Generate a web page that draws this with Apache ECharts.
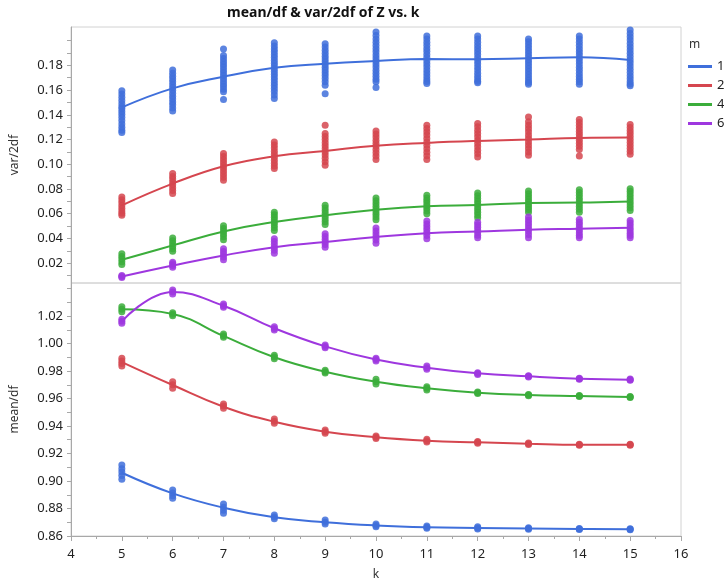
<!DOCTYPE html>
<html>
<head>
<meta charset="utf-8">
<script src="https://cdn.jsdelivr.net/npm/echarts@6/dist/echarts.min.js"></script>
<style>
  html, body { margin: 0; padding: 0; background: #fff; }
  #chart { width: 724px; height: 583px; }
</style>
</head>
<body>
<div id="chart"></div>
<script>
// k values on the shared horizontal axis
const kValues = [5, 6, 7, 8, 9, 10, 11, 12, 13, 14, 15];
const mLevels = ['1', '2', '4', '6'];

// Tick labels
const kTicks = [4, 5, 6, 7, 8, 9, 10, 11, 12, 13, 14, 15, 16];
const varTicks = [0.02, 0.04, 0.06, 0.08, 0.10, 0.12, 0.14, 0.16, 0.18];
const meanTicks = [0.86, 0.88, 0.90, 0.92, 0.94, 0.96, 0.98, 1.00, 1.02];

// var/2df replicates, one list per k (k = 5 .. 15)
const varM1 = [
  [0.1594, 0.1568, 0.1541, 0.1515, 0.1490, 0.1466, 0.1448, 0.1426, 0.1404, 0.1380, 0.1353, 0.1326, 0.1300, 0.1276, 0.1257],
  [0.1762, 0.1736, 0.1712, 0.1690, 0.1667, 0.1644, 0.1621, 0.1598, 0.1574, 0.1551, 0.1527, 0.1504, 0.1481, 0.1455, 0.1430],
  [0.1932, 0.1880, 0.1856, 0.1831, 0.1808, 0.1786, 0.1763, 0.1741, 0.1717, 0.1694, 0.1672, 0.1650, 0.1628, 0.1606, 0.1586, 0.1524],
  [0.1983, 0.1957, 0.1933, 0.1909, 0.1886, 0.1863, 0.1840, 0.1817, 0.1795, 0.1773, 0.1750, 0.1727, 0.1705, 0.1683, 0.1660, 0.1637, 0.1612, 0.1588, 0.1560, 0.1532],
  [0.1975, 0.1948, 0.1922, 0.1898, 0.1874, 0.1851, 0.1829, 0.1807, 0.1785, 0.1762, 0.1740, 0.1717, 0.1694, 0.1668, 0.1640, 0.1570],
  [0.2070, 0.2041, 0.2013, 0.1986, 0.1960, 0.1934, 0.1909, 0.1884, 0.1859, 0.1835, 0.1811, 0.1786, 0.1761, 0.1736, 0.1711, 0.1688, 0.1667, 0.1620],
  [0.2038, 0.2012, 0.1987, 0.1962, 0.1937, 0.1913, 0.1888, 0.1863, 0.1838, 0.1813, 0.1788, 0.1763, 0.1738, 0.1713, 0.1690, 0.1670, 0.1654],
  [0.2038, 0.2012, 0.1986, 0.1961, 0.1936, 0.1912, 0.1887, 0.1862, 0.1837, 0.1812, 0.1787, 0.1762, 0.1737, 0.1712, 0.1690, 0.1672, 0.1659],
  [0.2013, 0.1990, 0.1966, 0.1942, 0.1918, 0.1894, 0.1870, 0.1846, 0.1822, 0.1798, 0.1774, 0.1750, 0.1726, 0.1702, 0.1680, 0.1662, 0.1648],
  [0.2038, 0.2012, 0.1986, 0.1960, 0.1935, 0.1910, 0.1885, 0.1860, 0.1835, 0.1810, 0.1785, 0.1760, 0.1735, 0.1710, 0.1688, 0.1667, 0.1648],
  [0.2086, 0.2058, 0.2031, 0.2004, 0.1977, 0.1950, 0.1924, 0.1898, 0.1872, 0.1846, 0.1820, 0.1794, 0.1768, 0.1742, 0.1716, 0.1692, 0.1668, 0.1650, 0.1635]
];
const varM2 = [
  [0.0735, 0.0713, 0.0690, 0.0667, 0.0645, 0.0623, 0.0605, 0.0587],
  [0.0925, 0.0902, 0.0880, 0.0857, 0.0834, 0.0811, 0.0788, 0.0763],
  [0.1087, 0.1063, 0.1039, 0.1015, 0.0991, 0.0967, 0.0944, 0.0920, 0.0895, 0.0870],
  [0.1181, 0.1156, 0.1131, 0.1106, 0.1081, 0.1056, 0.1032, 0.1008, 0.0986, 0.0965],
  [0.1316, 0.1249, 0.1225, 0.1200, 0.1175, 0.1150, 0.1125, 0.1100, 0.1075, 0.1049, 0.1021, 0.0992],
  [0.1270, 0.1245, 0.1220, 0.1195, 0.1170, 0.1145, 0.1120, 0.1094, 0.1067, 0.1038],
  [0.1316, 0.1290, 0.1263, 0.1236, 0.1209, 0.1181, 0.1153, 0.1125, 0.1097, 0.1068, 0.1038],
  [0.1330, 0.1303, 0.1276, 0.1249, 0.1222, 0.1195, 0.1168, 0.1141, 0.1114, 0.1087, 0.1059],
  [0.1383, 0.1343, 0.1316, 0.1289, 0.1262, 0.1235, 0.1208, 0.1181, 0.1154, 0.1127, 0.1100, 0.1073],
  [0.1362, 0.1338, 0.1314, 0.1290, 0.1266, 0.1242, 0.1218, 0.1194, 0.1170, 0.1145, 0.1119, 0.1067],
  [0.1322, 0.1298, 0.1274, 0.1250, 0.1226, 0.1202, 0.1178, 0.1154, 0.1130, 0.1105, 0.1081]
];
const varM4 = [
  [0.0276, 0.0255, 0.0234, 0.0212, 0.0190],
  [0.0403, 0.0381, 0.0359, 0.0337, 0.0316, 0.0297],
  [0.0503, 0.0481, 0.0459, 0.0437, 0.0414, 0.0390],
  [0.0613, 0.0592, 0.0571, 0.0550, 0.0529, 0.0508, 0.0487, 0.0465],
  [0.0668, 0.0646, 0.0624, 0.0602, 0.0580, 0.0558, 0.0536, 0.0514],
  [0.0727, 0.0705, 0.0683, 0.0661, 0.0639, 0.0617, 0.0595, 0.0574, 0.0552],
  [0.0749, 0.0728, 0.0707, 0.0686, 0.0665, 0.0644, 0.0622, 0.0600],
  [0.0767, 0.0745, 0.0723, 0.0701, 0.0679, 0.0657, 0.0635, 0.0612, 0.0590, 0.0568],
  [0.0784, 0.0762, 0.0740, 0.0718, 0.0696, 0.0674, 0.0654, 0.0634, 0.0613],
  [0.0795, 0.0772, 0.0749, 0.0726, 0.0703, 0.0680, 0.0658, 0.0636, 0.0613],
  [0.0803, 0.0781, 0.0759, 0.0737, 0.0715, 0.0693, 0.0671, 0.0649, 0.0627]
];
const varM6 = [
  [0.0100, 0.0092, 0.0085],
  [0.0208, 0.0195, 0.0181, 0.0168],
  [0.0317, 0.0295, 0.0273, 0.0251, 0.0228],
  [0.0398, 0.0375, 0.0352, 0.0328, 0.0304, 0.0281],
  [0.0438, 0.0416, 0.0394, 0.0372, 0.0351, 0.0330],
  [0.0484, 0.0460, 0.0436, 0.0412, 0.0387, 0.0362],
  [0.0541, 0.0518, 0.0495, 0.0472, 0.0449, 0.0424, 0.0398],
  [0.0532, 0.0511, 0.0490, 0.0469, 0.0448, 0.0427, 0.0406],
  [0.0573, 0.0550, 0.0527, 0.0504, 0.0481, 0.0458, 0.0433, 0.0406],
  [0.0554, 0.0532, 0.0510, 0.0488, 0.0466, 0.0444, 0.0425, 0.0406],
  [0.0546, 0.0525, 0.0504, 0.0483, 0.0462, 0.0442, 0.0424, 0.0406]
];

// var/2df smoother values at each k
const varFitM1 = [0.1460, 0.1614, 0.1708, 0.1780, 0.1813, 0.1835, 0.1851, 0.1849, 0.1857, 0.1865, 0.1843];
const varFitM2 = [0.0668, 0.0844, 0.0984, 0.1065, 0.1108, 0.1150, 0.1173, 0.1189, 0.1200, 0.1213, 0.1216];
const varFitM4 = [0.0228, 0.0344, 0.0457, 0.0533, 0.0587, 0.0632, 0.0660, 0.0671, 0.0686, 0.0690, 0.0698];
const varFitM6 = [0.0092, 0.0181, 0.0263, 0.0330, 0.0372, 0.0412, 0.0443, 0.0456, 0.0471, 0.0479, 0.0487];

// mean/df replicates, one list per k (k = 5 .. 15)
const meanM1 = [
  [0.9116, 0.9090, 0.9065, 0.9040, 0.9012],
  [0.8935, 0.8912, 0.8892, 0.8874],
  [0.8833, 0.8810, 0.8788, 0.8765],
  [0.8753, 0.8738, 0.8726],
  [0.8716, 0.8700, 0.8687],
  [0.8687, 0.8677, 0.8668],
  [0.8673, 0.8664, 0.8656],
  [0.8668, 0.8659, 0.8651],
  [0.8660, 0.8655, 0.8650],
  [0.8655, 0.8651, 0.8647],
  [0.8652, 0.8649, 0.8645]
];
const meanM2 = [
  [0.9892, 0.9872, 0.9855, 0.9836],
  [0.9722, 0.9700, 0.9674],
  [0.9560, 0.9545, 0.9529],
  [0.9451, 0.9435, 0.9420],
  [0.9371, 0.9359, 0.9347],
  [0.9327, 0.9318, 0.9310],
  [0.9303, 0.9293, 0.9284],
  [0.9288, 0.9281, 0.9275],
  [0.9276, 0.9271, 0.9266],
  [0.9268, 0.9264, 0.9260],
  [0.9268, 0.9264, 0.9260]
];
const meanM4 = [
  [1.0268, 1.0250, 1.0231],
  [1.0224, 1.0212, 1.0202],
  [1.0069, 1.0057, 1.0045],
  [0.9914, 0.9902, 0.9890],
  [0.9805, 0.9795, 0.9785],
  [0.9740, 0.9722, 0.9705],
  [0.9686, 0.9674, 0.9662],
  [0.9648, 0.9642, 0.9636],
  [0.9630, 0.9625, 0.9620],
  [0.9622, 0.9618, 0.9614],
  [0.9615, 0.9611, 0.9607]
];
const meanM6 = [
  [1.0176, 1.0161, 1.0147],
  [1.0389, 1.0375, 1.0360],
  [1.0287, 1.0275, 1.0263],
  [1.0122, 1.0110, 1.0098],
  [0.9989, 0.9979, 0.9970],
  [0.9892, 0.9883, 0.9873],
  [0.9836, 0.9824, 0.9812],
  [0.9788, 0.9781, 0.9774],
  [0.9765, 0.9761, 0.9757],
  [0.9748, 0.9744, 0.9740],
  [0.9741, 0.9737, 0.9733]
];

// mean/df smoother values at each k
const meanFitM1 = [0.9060, 0.8910, 0.8806, 0.8736, 0.8700, 0.8677, 0.8664, 0.8659, 0.8655, 0.8651, 0.8649];
const meanFitM2 = [0.9865, 0.9698, 0.9540, 0.9431, 0.9359, 0.9318, 0.9293, 0.9281, 0.9271, 0.9264, 0.9264];
const meanFitM4 = [1.0249, 1.0215, 1.0055, 0.9900, 0.9795, 0.9722, 0.9674, 0.9642, 0.9625, 0.9618, 0.9611];
const meanFitM6 = [1.0161, 1.0375, 1.0275, 1.0111, 0.9979, 0.9883, 0.9824, 0.9783, 0.9761, 0.9744, 0.9737];

const palette = ['#3F6FDB', '#D5464F', '#3BAD3B', '#9E37DF'];
const FONT = '"Noto Sans", sans-serif';
const TXT = '#1f1f1f';

function toPoints(groups) {
  const pts = [];
  groups.forEach((vals, i) => vals.forEach(v => pts.push([kValues[i], v])));
  return pts;
}
function toLine(fit) {
  return fit.map((v, i) => [kValues[i], v]);
}
function stepValues(from, to, step) {
  const out = [];
  for (let v = from; v <= to + 1e-9; v += step) out.push(+v.toFixed(4));
  return out;
}

const varGroups = [varM1, varM2, varM4, varM6];
const varFits = [varFitM1, varFitM2, varFitM4, varFitM6];
const meanGroups = [meanM1, meanM2, meanM4, meanM6];
const meanFits = [meanFitM1, meanFitM2, meanFitM4, meanFitM6];

const series = [];
mLevels.forEach((m, j) => {
  series.push({
    name: m, type: 'line', xAxisIndex: 0, yAxisIndex: 0,
    data: toLine(varFits[j]), smooth: 0.45, showSymbol: false, z: 3,
    lineStyle: { color: palette[j], width: 2 }, itemStyle: { color: palette[j] }
  });
  series.push({
    name: m, type: 'line', xAxisIndex: 1, yAxisIndex: 1,
    data: toLine(meanFits[j]), smooth: 0.45, showSymbol: false, z: 3,
    lineStyle: { color: palette[j], width: 2 }, itemStyle: { color: palette[j] }
  });
  series.push({
    name: 'pts ' + m, type: 'scatter', xAxisIndex: 0, yAxisIndex: 0,
    data: toPoints(varGroups[j]), symbolSize: 7, z: 2,
    itemStyle: { color: palette[j], opacity: 0.85 }
  });
  series.push({
    name: 'pts ' + m, type: 'scatter', xAxisIndex: 1, yAxisIndex: 1,
    data: toPoints(meanGroups[j]), symbolSize: 7, z: 2,
    itemStyle: { color: palette[j], opacity: 0.85 }
  });
});

const yLabelStyle = { fontFamily: FONT, fontSize: 13, color: TXT, margin: 8, formatter: v => (+v).toFixed(2) };
const axisLineStyle = { show: true, lineStyle: { color: '#a8a8a8', width: 1 } };

const option = {
  animation: false,
  backgroundColor: '#ffffff',
  graphic: [
    { type: 'text', left: 338 - 111, top: 6,
      style: { text: 'mean/df & var/2df of Z vs. k', font: 'bold 14px "Noto Sans", sans-serif', fill: '#111' } },
    { type: 'text', left: 689, top: 39,
      style: { text: 'm', font: '12px "Noto Sans", sans-serif', fill: '#333' } }
  ],
  legend: {
    data: mLevels, orient: 'vertical', left: 688, top: 60, padding: 0,
    icon: 'rect', itemWidth: 24, itemHeight: 3, itemGap: 6,
    textStyle: { fontFamily: FONT, fontSize: 13, color: TXT },
    selectedMode: false
  },
  grid: [
    { left: 71, right: 43, top: 27, height: 256, show: true, borderColor: '#d2d2d2', borderWidth: 1 },
    { left: 71, right: 43, top: 283, height: 253, show: true, borderColor: '#d2d2d2', borderWidth: 1 }
  ],
  xAxis: [
    { type: 'value', gridIndex: 0, min: 4, max: 16, interval: 1, show: false },
    { type: 'value', gridIndex: 1, min: 4, max: 16, interval: 1,
      name: 'k', nameLocation: 'middle', nameGap: 33,
      nameTextStyle: { fontFamily: FONT, fontSize: 12, color: '#333' },
      axisLine: axisLineStyle,
      axisTick: { show: true, length: 5, lineStyle: { color: '#a8a8a8' } },
      minorTick: { show: true, splitNumber: 2, length: 3, lineStyle: { color: '#a8a8a8' } },
      axisLabel: { fontFamily: FONT, fontSize: 13, color: TXT, margin: 12, customValues: kTicks },
      splitLine: { show: false }
    }
  ],
  yAxis: [
    { type: 'value', gridIndex: 0, min: 0.004, max: 0.211,
      name: 'var/2df', nameLocation: 'middle', nameGap: 50,
      nameTextStyle: { fontFamily: FONT, fontSize: 12, color: '#333' },
      axisLine: axisLineStyle,
      axisTick: { show: true, length: 4, lineStyle: { color: '#a8a8a8' }, customValues: stepValues(0.01, 0.20, 0.01) },
      axisLabel: Object.assign({ customValues: varTicks }, yLabelStyle),
      splitLine: { show: false }
    },
    { type: 'value', gridIndex: 1, min: 0.86, max: 1.044,
      name: 'mean/df', nameLocation: 'middle', nameGap: 50,
      nameTextStyle: { fontFamily: FONT, fontSize: 12, color: '#333' },
      axisLine: axisLineStyle,
      axisTick: { show: true, length: 4, lineStyle: { color: '#a8a8a8' }, customValues: stepValues(0.86, 1.04, 0.01) },
      axisLabel: Object.assign({ customValues: meanTicks }, yLabelStyle),
      splitLine: { show: false }
    }
  ],
  series: series
};

const chart = echarts.init(document.getElementById('chart'), null, { renderer: 'canvas' });
chart.setOption(option);
</script>
</body>
</html>
